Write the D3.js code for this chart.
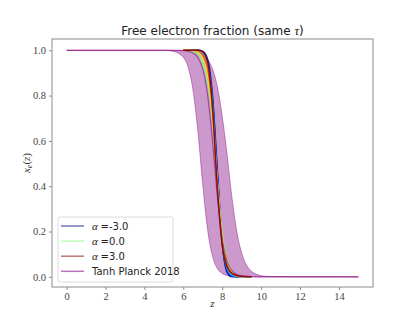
<!DOCTYPE html>
<html>
<head>
<meta charset="utf-8">
<script src="https://cdn.jsdelivr.net/npm/d3@7"></script>
<style>
  body { margin: 0; background: #fff; }
  svg { display: block; }
</style>
</head>
<body>
<svg id="chart" width="415" height="323"></svg>
<script>
// redshift grid for the Planck band and line
var zgrid = [0, 5, 5.5, 6, 6.25, 6.5, 6.75, 7, 7.25, 7.5, 7.75, 8, 8.25, 8.5, 8.75, 9, 9.25, 9.5, 9.75, 10, 10.5, 15];

// Planck 2018 band (lower and upper reionization redshift)
var band_low  = [1, 1, 0.995, 0.969, 0.924, 0.823, 0.641, 0.406, 0.207, 0.091, 0.037, 0.015, 0.006, 0.002, 0.001, 0, 0, 0, 0, 0, 0, 0];
var band_high = [1, 1, 1, 1, 0.999, 0.997, 0.993, 0.982, 0.96, 0.918, 0.84, 0.71, 0.54, 0.35, 0.2, 0.105, 0.052, 0.025, 0.012, 0.005, 0.001, 0];
var planck_mid = [1, 1, 1, 0.998, 0.995, 0.988, 0.968, 0.917, 0.802, 0.599, 0.354, 0.168, 0.069, 0.027, 0.01, 0.004, 0.001, 0.0005, 0, 0, 0, 0];

// alpha family, only drawn over the transition
var zalpha = [6, 6.5, 6.75, 7, 7.25, 7.5, 7.75, 8, 8.25, 8.5, 8.75, 9, 9.5];
var alphas = [-3, -2, -1, 0, 1, 2, 3];
var alpha_colors = ["#000080", "#0030ff", "#00d4ff", "#7cff79", "#ffe600", "#ff4800", "#800000"];
var xe_alpha = [
  [1, 1, 1, 0.995, 0.96, 0.8, 0.47, 0.15, 0.02, 0, 0, 0, 0],
  [1, 1, 1, 0.99, 0.95, 0.78, 0.45, 0.15, 0.03, 0.003, 0, 0, 0],
  [1, 1, 0.998, 0.985, 0.935, 0.76, 0.42, 0.15, 0.04, 0.008, 0.001, 0, 0],
  [1, 0.995, 0.985, 0.94, 0.86, 0.69, 0.42, 0.19, 0.07, 0.022, 0.006, 0.001, 0],
  [1, 0.999, 0.993, 0.96, 0.89, 0.71, 0.41, 0.17, 0.06, 0.018, 0.005, 0.001, 0],
  [1, 1, 0.998, 0.98, 0.92, 0.73, 0.4, 0.15, 0.05, 0.015, 0.005, 0.002, 0],
  [1, 1, 1, 0.995, 0.95, 0.75, 0.39, 0.14, 0.045, 0.015, 0.006, 0.002, 0]
];

var xticks = [0, 2, 4, 6, 8, 10, 12, 14];
var yticks = [0, 0.2, 0.4, 0.6, 0.8, 1.0];

var svg = d3.select("#chart");
var pl = 52, pr = 373, pt = 39, pb = 287;

var x = d3.scaleLinear().domain([-0.75, 15.75]).range([pl, pr]);
var y = d3.scaleLinear().domain([-0.045, 1.05]).range([pb, pt]);

// band
var area = d3.area()
    .x(function(d, i){ return x(zgrid[i]); })
    .y0(function(d, i){ return y(band_low[i]); })
    .y1(function(d, i){ return y(band_high[i]); })
    .curve(d3.curveMonotoneX);

svg.append("path")
    .datum(zgrid)
    .attr("d", area)
    .attr("fill", "purple")
    .attr("fill-opacity", 0.4)
    .attr("stroke", "purple")
    .attr("stroke-opacity", 0.4)
    .attr("stroke-width", 1);

var line = d3.line()
    .x(function(d, i){ return x(zgrid[i]); })
    .y(function(d){ return y(d); })
    .curve(d3.curveMonotoneX);

var aline = d3.line()
    .x(function(d, i){ return x(zalpha[i]); })
    .y(function(d){ return y(d); })
    .curve(d3.curveMonotoneX);

for (let k = 0; k < alphas.length; k++) {
    svg.append("path")
        .datum(xe_alpha[k])
        .attr("d", aline)
        .attr("fill", "none")
        .attr("stroke", alpha_colors[k])
        .attr("stroke-width", 1.5)
        .attr("stroke-opacity", 0.85);
}

svg.append("path")
    .datum(planck_mid)
    .attr("d", line)
    .attr("fill", "none")
    .attr("stroke", "purple")
    .attr("stroke-width", 1.2)
    .attr("stroke-opacity", 0.55);

// frame
svg.append("rect")
    .attr("x", pl).attr("y", pt)
    .attr("width", pr - pl).attr("height", pb - pt)
    .attr("fill", "none")
    .attr("stroke", "#8c8c8c")
    .attr("stroke-width", 1);

var xAxis = svg.append("g")
    .attr("transform", "translate(0," + pb + ")")
    .call(d3.axisBottom(x).tickValues(xticks).tickSize(3).tickPadding(3).tickFormat(d3.format("d")));
var yAxis = svg.append("g")
    .attr("transform", "translate(" + pl + ",0)")
    .call(d3.axisLeft(y).tickValues(yticks).tickSize(3).tickPadding(3).tickFormat(d3.format(".1f")));

[xAxis, yAxis].forEach(function(g){
    g.select(".domain").remove();
    g.selectAll("line").attr("stroke", "#8c8c8c");
    g.selectAll("text")
        .attr("fill", "#444")
        .style("font-family", "'Liberation Serif', 'DejaVu Serif', serif")
        .style("font-size", "10.5px");
});

// title and labels
svg.append("text")
    .attr("x", (pl + pr) / 2).attr("y", 35)
    .attr("text-anchor", "middle")
    .style("font-family", "'DejaVu Sans', sans-serif")
    .style("font-size", "12px")
    .attr("fill", "#222")
    .html("Free electron fraction (same <tspan font-family='Liberation Serif' font-style='italic' font-size='13px'>τ</tspan>)");

svg.append("text")
    .attr("x", (pl + pr) / 2).attr("y", 307)
    .attr("text-anchor", "middle")
    .style("font-family", "'Liberation Serif', serif")
    .style("font-style", "italic")
    .style("font-size", "11px")
    .attr("fill", "#333")
    .text("z");

svg.append("text")
    .attr("transform", "translate(30," + ((pt + pb) / 2) + ") rotate(-90)")
    .attr("text-anchor", "middle")
    .style("font-family", "'Liberation Serif', serif")
    .style("font-size", "11px")
    .attr("fill", "#333")
    .html("<tspan font-style='italic'>x</tspan><tspan font-style='italic' font-size='8px' dy='2'>e</tspan><tspan dy='-2'>(</tspan><tspan font-style='italic'>z</tspan>)");

// legend
var legend_labels = ["=-3.0", "=0.0", "=3.0", "Tanh Planck 2018"];
var legend_colors = [alpha_colors[0], alpha_colors[3], alpha_colors[6], "purple"];
var lg = svg.append("g").attr("transform", "translate(58,217)");
lg.append("rect")
    .attr("width", 115).attr("height", 65)
    .attr("rx", 2)
    .attr("fill", "#fff").attr("fill-opacity", 0.8)
    .attr("stroke", "#dcdcdc");
legend_labels.forEach(function(lab, i){
    var yy = 9 + i * 15.1;
    lg.append("line")
        .attr("x1", 3).attr("x2", 26)
        .attr("y1", yy).attr("y2", yy)
        .attr("stroke", legend_colors[i])
        .attr("stroke-opacity", 0.55)
        .attr("stroke-width", 1.5);
    var t = lg.append("text")
        .attr("x", 34).attr("y", yy + 3.5)
        .style("font-family", "'DejaVu Sans', sans-serif")
        .style("font-size", "10px")
        .attr("fill", "#222");
    if (i < 3) {
        t.append("tspan")
            .style("font-family", "'Liberation Serif', serif")
            .style("font-style", "italic")
            .style("font-size", "11px")
            .text("α ");
    }
    t.append("tspan").text(lab);
});
</script>
</body>
</html>
